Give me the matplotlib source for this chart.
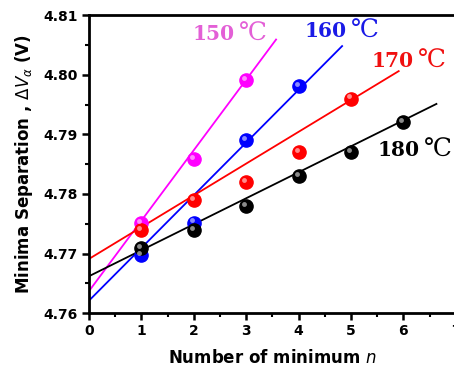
import numpy as np
import matplotlib
matplotlib.use("Agg")
import matplotlib.pyplot as plt
import matplotlib.transforms as mtransforms
from matplotlib.ticker import MultipleLocator, FormatStrFormatter

# measured minima separation (V) vs number of minimum n
temps = ["150", "160", "170", "180"]
n_150 = [1, 2, 3]
v_150 = [4.7751, 4.7859, 4.7991]
n_160 = [1, 2, 3, 4]
v_160 = [4.7698, 4.7752, 4.7890, 4.7981]
n_170 = [1, 2, 3, 4, 5]
v_170 = [4.7740, 4.7790, 4.7820, 4.7870, 4.7960]
n_180 = [1, 2, 3, 4, 5, 6]
v_180 = [4.7710, 4.7740, 4.7780, 4.7830, 4.7870, 4.7920]

# linear fit lines, read as end points (x start, y start, x end, y end)
fit_150 = [0, 4.7637, 3.57, 4.8059]
fit_160 = [0, 4.7621, 4.83, 4.8048]
fit_170 = [0, 4.7691, 5.91, 4.8006]
fit_180 = [0, 4.7662, 6.63, 4.7951]

colors = ["#ff00ff", "#0000ff", "#ff0000", "#000000"]
text_colors = ["#e35fd6", "#1a1ae6", "#f01010", "#000000"]
label_pos = [(1.98, 4.8068), (4.12, 4.8073), (5.40, 4.8023), (5.50, 4.7873)]

fig = plt.figure(figsize=(4.54, 3.68), dpi=100)
ax = fig.add_axes([0.196, 0.149, 0.808, 0.810])

series = [(n_150, v_150, fit_150), (n_160, v_160, fit_160),
          (n_170, v_170, fit_170), (n_180, v_180, fit_180)]
hl = mtransforms.offset_copy(ax.transData, fig=fig, x=-1.5, y=1.5, units="points")
for (n, v, fit), c in zip(series, colors):
    ax.plot([fit[0], fit[2]], [fit[1], fit[3]], color=c, lw=1.3, zorder=2)
for (n, v, fit), c in zip(series, colors):
    ax.plot(n, v, "o", color=c, ms=9.5, mec=c, zorder=3)
    ax.plot(n, v, "o", color="white", ms=3.5, mec="none", alpha=0.55,
            transform=hl, zorder=4)

for t, c, (x, y) in zip(temps, text_colors, label_pos):
    txt = ax.text(x, y, t, color=c, fontsize=14.5, fontweight="bold",
                  family="DejaVu Serif", ha="left", va="center", clip_on=False)
    ax.annotate("\u2103", xy=(1, 0.5), xycoords=txt, xytext=(3, 0),
                textcoords="offset points", color=c, fontsize=18,
                family="DejaVu Serif", ha="left", va="center")

ax.set_xlim(0, 7)
ax.set_ylim(4.76, 4.81)
ax.xaxis.set_major_locator(MultipleLocator(1))
ax.xaxis.set_minor_locator(MultipleLocator(0.5))
ax.yaxis.set_major_locator(MultipleLocator(0.01))
ax.yaxis.set_minor_locator(MultipleLocator(0.005))
ax.yaxis.set_major_formatter(FormatStrFormatter("%.2f"))
ax.tick_params(which="major", direction="out", length=5, width=1.8, labelsize=10, pad=3)
ax.tick_params(which="minor", direction="out", length=3, width=1.5)
for lab in ax.get_xticklabels() + ax.get_yticklabels():
    lab.set_fontweight("bold")
for s in ax.spines.values():
    s.set_linewidth(2)

ax.set_xlabel(r"Number of minimum $\mathit{n}$", fontsize=12, fontweight="bold", labelpad=8)
ax.set_ylabel(r"Minima Separation , $\Delta V_{\alpha}$ (V)", fontsize=12, fontweight="bold", labelpad=6)

fig.savefig("out.png", dpi=100)
